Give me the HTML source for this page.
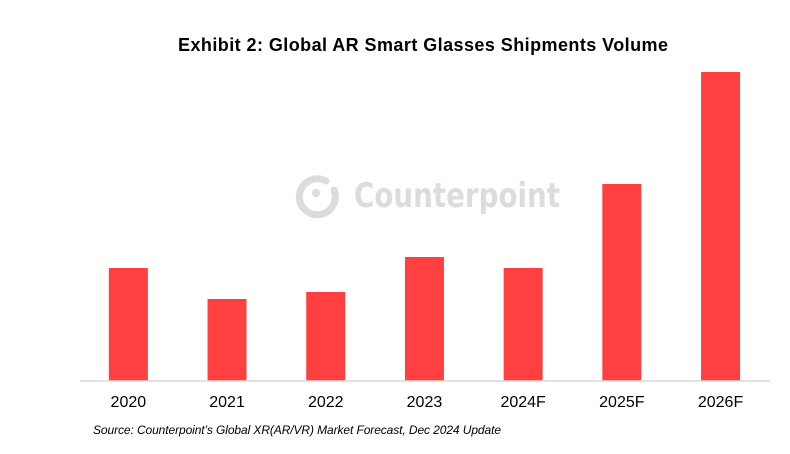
<!DOCTYPE html>
<html><head><meta charset="utf-8"><style>
body{margin:0;background:#fff;}
svg{display:block;font-family:"Liberation Sans",sans-serif;}
</style></head><body>
<svg id="chart" width="790" height="454" viewBox="0 0 790 454">
<text x="423" y="51" text-anchor="middle" font-size="18" font-weight="bold" fill="#000" textLength="490">Exhibit 2: Global AR Smart Glasses Shipments Volume</text>
<g fill="#dcdcdc">
<path d="M326 181 A18 18 0 1 0 334 190" fill="none" stroke="#dcdcdc" stroke-width="7" stroke-linecap="round"/>
<circle cx="316" cy="193" r="4"/>
<text x="354" y="207" font-size="34" font-weight="bold" font-family="DejaVu Sans, sans-serif" textLength="206" lengthAdjust="spacingAndGlyphs">Counterpoint</text>
</g>
<g id="bars"></g>
<line x1="80" y1="381" x2="770" y2="381" stroke="#d9d9d9" stroke-width="1.5"/>
<g id="labels"></g>
<text x="93" y="434" font-size="12" font-style="italic" fill="#000" textLength="408">Source: Counterpoint’s Global XR(AR/VR) Market Forecast, Dec 2024 Update</text>
</svg>
<script>
const categories = ["2020","2021","2022","2023","2024F","2025F","2026F"];
const values = [113, 82, 89, 124, 113, 197, 309];
const yMax = 320;
const NS = "http://www.w3.org/2000/svg";
const plotLeft = 78, step = 98.7, barW = 39, baseY = 381, plotH = 320;
function xScale(i){ return plotLeft + step*i + (step-barW)/2 + 1; }
function yScale(v){ return baseY - v/yMax*plotH; }
const bars = document.getElementById('bars'), labels = document.getElementById('labels');
categories.forEach((c,i)=>{
  const r = document.createElementNS(NS,'rect');
  r.setAttribute('x', xScale(i));
  r.setAttribute('y', yScale(values[i]));
  r.setAttribute('width', barW);
  r.setAttribute('height', baseY - yScale(values[i]));
  r.setAttribute('fill', '#ff4040');
  
  
  bars.appendChild(r);
  const t = document.createElementNS(NS,'text');
  t.setAttribute('x', xScale(i) + barW/2);
  t.setAttribute('y', 407);
  t.setAttribute('text-anchor', 'middle');
  t.setAttribute('font-size', '16');
  t.textContent = c;
  
  
  labels.appendChild(t);
});
</script>
</body></html>
